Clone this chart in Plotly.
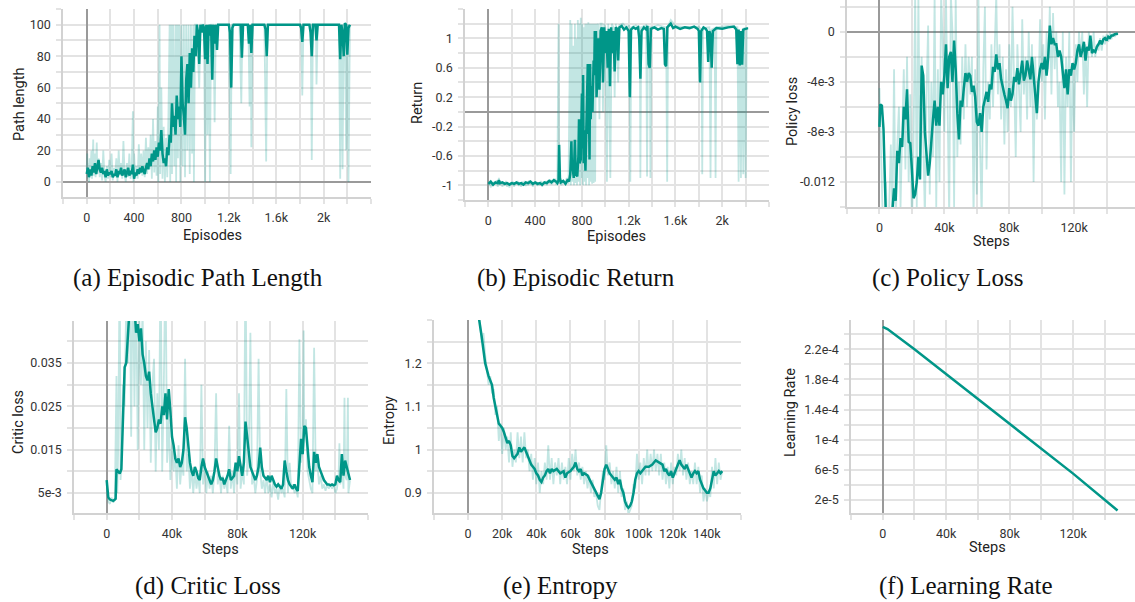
import plotly.graph_objects as go

# ---------------- DATA ----------------
# (a) Episodic path length: (episode, value)
path_len_smooth = [(0,5),(10,9),(20,3),(30,8),(40,4),(50,10),(60,6),(70,12),(80,5),(90,10),(100,14),(110,8),(120,6),(130,9),(140,5),(150,7),(160,3),(170,8),(180,4),(190,6),(200,5),(210,7),(220,3),(230,5),(240,4),(250,8),(260,3),(270,7),(280,5),(290,9),(300,4),(310,6),(320,8),(330,3),(340,6),(350,9),(360,4),(370,7),(380,5),(390,11),(400,2),(410,6),(420,4),(430,8),(440,5),(450,9),(460,6),(470,10),(480,7),(490,5),(500,9),(510,12),(520,8),(530,15),(540,10),(550,18),(560,13),(570,20),(580,14),(590,22),(600,16),(610,25),(620,20),(630,33),(640,18),(650,12),(660,15),(670,10),(680,22),(690,17),(700,30),(710,25),(720,50),(730,35),(740,42),(750,30),(760,55),(770,40),(780,48),(790,35),(800,80),(810,50),(820,42),(830,30),(840,65),(850,75),(860,50),(870,82),(880,60),(890,85),(900,70),(910,93),(920,80),(930,100),(940,95),(950,75),(960,100),(970,95),(980,100),(990,98),(1000,78),(1010,100),(1020,75),(1030,100),(1040,93),(1050,100),(1060,65),(1070,100),(1080,88),(1090,100),(1100,84),(1110,100),(1130,100),(1150,100),(1200,100),(1210,95),(1220,60),(1230,98),(1240,100),(1280,100),(1300,100),(1310,79),(1320,100),(1360,100),(1370,88),(1380,100),(1390,82),(1400,100),(1420,100),(1500,100),(1510,97),(1520,80),(1530,100),(1600,100),(1800,100),(1810,98),(1820,89),(1830,100),(1880,100),(1890,95),(1900,80),(1910,100),(1930,100),(1940,90),(1950,100),(2000,100),(2100,100),(2130,100),(2140,78),(2150,100),(2160,95),(2170,80),(2180,101),(2190,100),(2200,81),(2210,98),(2222,100)]
path_len_raw = [(0,8),(5,18),(10,2),(15,12),(20,0),(25,15),(30,5),(40,20),(45,2),(55,27),(60,4),(70,18),(75,3),(85,25),(90,5),(100,15),(110,3),(120,12),(130,1),(140,20),(150,4),(160,0),(170,10),(180,2),(190,14),(200,3),(210,18),(220,1),(230,9),(240,3),(250,15),(260,0),(270,20),(280,4),(290,12),(300,2),(310,26),(320,5),(330,0),(340,12),(350,3),(360,18),(370,2),(380,8),(390,45),(395,0),(400,18),(410,3),(420,10),(430,2),(440,24),(450,5),(460,18),(470,4),(480,20),(490,3),(500,28),(510,5),(520,22),(530,8),(540,30),(550,2),(560,40),(570,6),(580,26),(590,4),(600,48),(605,0),(615,100),(620,5),(630,60),(640,2),(650,35),(660,0),(670,28),(680,3),(690,42),(700,100),(705,0),(715,100),(720,5),(730,100),(740,10),(750,100),(755,0),(765,100),(770,15),(780,100),(790,0),(800,100),(810,10),(820,100),(830,3),(840,100),(850,20),(860,100),(870,5),(880,100),(890,18),(900,100),(905,0),(915,100),(930,100),(950,60),(960,100),(990,100),(1000,0),(1010,100),(1020,30),(1030,100),(1040,0),(1050,100),(1070,100),(1080,38),(1090,100),(1120,100),(1200,100),(1215,5),(1225,100),(1290,100),(1305,50),(1315,100),(1365,100),(1375,48),(1385,100),(1390,22),(1400,100),(1500,100),(1515,13),(1525,100),(1810,100),(1820,55),(1830,100),(1890,100),(1900,14),(1910,100),(1935,100),(1940,62),(1950,100),(2130,100),(2140,2),(2150,100),(2160,8),(2170,100),(2180,100),(2190,20),(2200,100),(2210,0),(2222,100)]

# (b) Episodic return
return_smooth = [(0,-0.98),(20,-0.95),(40,-0.99),(60,-0.96),(80,-0.97),(90,-0.93),(100,-0.97),(120,-0.96),(140,-0.98),(160,-0.97),(180,-0.99),(200,-0.97),(220,-0.98),(240,-0.96),(260,-0.98),(280,-0.97),(300,-0.99),(320,-0.96),(340,-0.97),(360,-0.95),(380,-0.98),(400,-0.96),(420,-0.98),(440,-0.97),(460,-0.99),(480,-0.96),(500,-0.97),(520,-0.94),(540,-0.96),(560,-0.93),(580,-0.95),(590,-0.97),(600,-0.93),(605,-0.45),(612,-0.9),(620,-0.96),(640,-0.94),(660,-0.98),(680,-0.92),(690,-0.95),(700,-0.85),(710,-0.4),(715,-0.8),(720,-0.75),(730,-0.9),(740,-0.38),(745,-0.7),(750,-0.85),(760,-0.88),(770,-0.6),(775,-0.1),(780,-0.7),(790,-0.65),(800,0.25),(805,-0.5),(810,0.5),(815,-0.7),(820,-0.25),(830,-0.8),(840,-0.05),(850,0.65),(855,-0.3),(860,0.1),(865,-0.65),(870,0.65),(875,-0.1),(880,0.35),(890,0.0),(900,0.7),(905,0.5),(910,1.1),(915,0.6),(920,1.1),(925,0.2),(930,0.4),(935,0.9),(940,1.0),(950,0.3),(960,1.1),(970,1.15),(980,0.4),(990,1.15),(1000,0.8),(1010,1.1),(1020,0.6),(1030,1.13),(1040,0.35),(1050,1.15),(1060,0.8),(1070,1.1),(1080,0.55),(1090,1.15),(1100,1.13),(1110,0.7),(1120,1.15),(1140,1.17),(1160,1.12),(1180,1.15),(1200,1.1),(1210,0.2),(1220,1.12),(1240,1.15),(1260,1.13),(1280,1.15),(1290,1.0),(1300,0.45),(1310,1.1),(1330,1.15),(1350,1.12),(1360,1.17),(1370,0.65),(1380,0.6),(1390,1.13),(1420,1.15),(1450,1.12),(1480,1.14),(1500,1.13),(1510,0.65),(1520,0.62),(1530,1.15),(1560,1.2),(1580,1.14),(1600,1.16),(1640,1.13),(1680,1.15),(1720,1.14),(1760,1.16),(1790,1.13),(1800,1.1),(1810,0.4),(1820,1.1),(1840,1.15),(1860,1.13),(1870,1.1),(1880,0.68),(1890,1.1),(1900,1.05),(1910,0.6),(1920,1.1),(1950,1.14),(2000,1.13),(2050,1.15),(2100,1.16),(2120,1.12),(2130,0.65),(2140,1.12),(2150,0.63),(2160,1.1),(2170,0.64),(2180,1.12),(2200,1.13),(2220,1.14)]
return_raw = [(0,-1.0),(10,-0.94),(20,-1.03),(30,-0.96),(40,-1.01),(50,-0.95),(60,-0.99),(70,-0.93),(80,-1.02),(90,-0.9),(100,-1.0),(110,-0.95),(120,-1.02),(130,-0.96),(140,-1.0),(150,-0.94),(160,-1.02),(170,-0.97),(180,-1.03),(190,-0.96),(200,-1.0),(210,-0.95),(220,-1.02),(230,-0.96),(240,-0.99),(250,-0.94),(260,-1.01),(270,-0.96),(280,-1.02),(290,-0.95),(300,-1.0),(310,-0.94),(320,-1.01),(330,-0.96),(340,-1.0),(350,-0.93),(360,-0.99),(370,-0.95),(380,-1.02),(390,-0.96),(400,-0.99),(410,-0.95),(420,-1.01),(430,-0.96),(440,-1.0),(450,-0.94),(460,-1.02),(470,-0.95),(480,-0.99),(490,-0.94),(500,-1.0),(510,-0.93),(520,-0.98),(530,-0.92),(540,-0.99),(550,-0.93),(560,-0.97),(570,-0.91),(580,-0.99),(590,-0.94),(600,1.2),(605,-0.98),(615,-0.92),(625,-1.0),(640,-0.93),(655,-0.99),(670,-0.9),(685,-0.98),(700,1.25),(705,-1.0),(712,1.2),(718,-0.95),(725,0.9),(732,-1.0),(740,1.2),(746,-0.97),(752,1.0),(758,-1.0),(765,1.25),(771,-0.95),(778,1.2),(784,-1.0),(790,1.28),(796,-0.9),(803,1.2),(809,-1.0),(816,1.15),(822,-0.95),(829,1.2),(835,-1.0),(842,1.2),(848,-0.9),(855,1.22),(861,-1.0),(868,1.2),(874,-0.95),(881,1.2),(887,-0.98),(894,1.2),(900,-0.97),(907,1.2),(913,-0.95),(920,1.2),(926,0.2),(933,1.2),(940,1.18),(950,-0.1),(958,1.2),(970,1.2),(980,0.0),(990,1.2),(1000,1.15),(1014,-0.95),(1025,1.2),(1043,-0.9),(1055,1.2),(1070,1.15),(1080,0.2),(1090,1.2),(1110,0.4),(1120,1.18),(1150,1.2),(1180,1.15),(1205,1.18),(1214,-0.95),(1222,1.15),(1260,1.18),(1295,1.15),(1300,-0.9),(1307,1.15),(1350,1.18),(1357,-0.88),(1365,1.15),(1380,1.16),(1386,-0.9),(1393,1.15),(1450,1.18),(1520,1.15),(1529,-0.95),(1537,1.17),(1560,1.25),(1600,1.17),(1700,1.15),(1800,1.16),(1822,1.12),(1829,-0.85),(1836,1.14),(1890,1.15),(1900,-0.9),(1908,1.12),(1935,1.14),(1943,-0.9),(1950,1.15),(2050,1.17),(2130,1.15),(2140,-0.95),(2150,1.1),(2160,-0.9),(2170,1.12),(2180,-0.85),(2190,1.15),(2200,-0.9),(2210,1.13),(2222,1.15)]

# (c) Policy loss: (step in thousands, loss in 1e-3)
policy_smooth = [(0,-7.6),(0.5,-5.8),(1.5,-5.9),(2.5,-7.8),(4,-15),(6,-16),(8,-14.2),(9,-12.5),(10,-13.5),(11,-9.5),(12,-10.5),(13,-8.5),(14,-9.2),(15,-6.0),(16,-7),(17,-4.6),(18,-8.8),(19,-8.9),(20,-11),(21,-13.3),(22,-13),(23,-12),(24,-10),(25,-11.8),(26,-2.7),(27,-3.5),(28,-8.0),(29,-9.5),(30,-11.5),(31,-10.5),(32,-8.5),(33,-7),(34,-5.5),(35,-7.5),(36,-6),(37,-7.5),(38,-4.0),(39,-5),(40,-3.5),(41,-1.0),(42,-4.5),(43,-2),(44,-1.6),(45,-4),(46,-0.7),(47,-3),(48,-6.5),(49,-8.6),(50,-5.5),(51,-6.0),(52,-4.5),(53,-3.3),(54,-4.0),(55,-3.3),(56,-3.5),(57,-4.8),(58,-4.3),(59,-5.2),(60,-7.2),(61,-7.5),(62,-6.5),(63,-8.0),(64,-6.0),(65,-5.5),(66,-4.8),(67,-5.6),(68,-4.2),(69,-4.6),(70,-2.8),(71,-3.2),(72,-1.8),(73,-3.0),(74,-2.5),(75,-3.8),(76,-4.5),(77,-5.0),(78,-5.5),(79,-6.1),(80,-4.5),(81,-5.5),(82,-5.0),(83,-3.6),(84,-4.0),(85,-2.9),(86,-4.2),(87,-3.0),(88,-2.3),(89,-3.9),(90,-3.5),(91,-2.3),(92,-3.0),(93,-3.8),(94,-2.0),(95,-3.5),(96,-4.5),(97,-6.5),(98,-4.0),(99,-3.0),(100,-2.5),(101,-3.0),(102,-2.0),(103,-3.5),(104,-2.0),(105,0.5),(106,-1.0),(107,-0.5),(108,-1.0),(109,-1.0),(110,-2.0),(111,-1.5),(112,-2.0),(113,-3.5),(114,-4.5),(115,-3.0),(116,-5.0),(117,-3.0),(118,-3.5),(119,-2.5),(120,-3.0),(121,-2.5),(122,-1.5),(123,-1.0),(124,-2.0),(125,-1.5),(126,-0.8),(127,-2.3),(128,-1.2),(129,-1.5),(130,-0.3),(131,-1.7),(132,-1.5),(133,-1.6),(134,-1.2),(135,-1.0),(136,-0.7),(137,-1.0),(138,-0.6),(139,-0.5),(140,-0.7),(141,-0.4),(142,-0.5),(143,-0.3),(144,-0.3),(145,-0.2),(146,-0.2),(147,-0.15)]
policy_raw = [(0,-4.5),(1,-10),(2,-16),(3,-20),(4,-12),(5,-18),(6,-14),(7,-9),(8,-15),(9,-3),(10,-16),(11,-9),(12,-6),(13,-14),(14,-8),(15,-3),(16,-11),(17,-2),(18,-12),(19,-5),(20,-16),(21,-9),(22,3),(23,-14),(24,3),(25,-11),(26,-2),(27,-9),(28,-15),(29,-5),(30,0.5),(31,-13),(32,-4),(33,-10),(34,3),(35,-14),(36,-3),(37,-12),(38,3),(39,-1),(40,-8),(41,3),(42,-6),(43,-15),(44,3),(45,0),(46,-14),(47,3),(48,-10),(49,-4),(50,-9),(51,-2),(52,-7),(53,-1),(54,-6),(55,-2),(56,-5),(57,-2),(58,-15),(59,-3),(60,-13),(61,3),(62,-9),(63,-15),(64,-3),(65,2),(66,-11),(67,-4),(68,-7),(69,-1),(70,-6),(71,-2),(72,3),(73,-5),(74,-1),(75,-7),(76,-2),(77,-9),(78,-3),(79,-8),(80,-1),(81,-6),(82,2),(83,-4),(84,-10),(85,-1),(86,-5),(87,-8),(88,1),(89,-5),(90,-2),(91,-7),(92,0),(93,-6),(94,-1),(95,-12),(96,-2),(97,-7),(98,-5),(99,1),(100,-4),(101,-1),(102,-7),(103,0),(104,-3),(105,2),(106,-5),(107,1.5),(108,-3),(109,0),(110,-6),(111,-4),(112,-12),(113,0),(114,-13),(115,-2),(116,-6),(117,0),(118,-12),(119,-3),(120,-8),(121,-1),(122,-4),(123,0),(124,-2),(125,0),(126,-5),(127,-1),(128,-6),(129,0),(130,-1),(131,-2),(132,0),(133,-2),(134,-1),(135,-1.5),(136,-0.5),(137,-1.5),(138,-0.3),(139,-1.0),(140,-0.2),(141,-0.8),(142,0),(143,-0.6),(144,-0.1),(145,-0.4),(146,-0.1),(147,-0.2)]

# (d) Critic loss: (step in thousands, loss in 1e-3)
critic_smooth = [(0,8.0),(0.5,5.5),(1,4.0),(2,3.5),(3,3.3),(4,3.2),(5,3.5),(5.5,3.7),(6,10.5),(7,10),(8,9.5),(9,10.5),(10,22),(11,34),(12,35),(13,45),(14,50),(15,55),(16,60),(17,48),(18,42),(19,44),(20,40),(21,43),(22,37),(23,35),(24,32),(25,31),(26,33),(27,28),(28,25),(29,21),(30,19),(31,20),(32,22),(33,21),(34,25),(35,23),(36,28),(37,22),(38,29),(39,24),(40,18),(41,16),(42,13),(43,12),(44,13),(45,11),(46,12),(47,15),(48,22.5),(49,20),(50,15),(51,12),(52,10),(53,9),(54,11),(55,10),(56,8.5),(57,8),(58,11),(59,13),(60,11),(61,10),(62,9),(63,8),(64,7),(65,8),(66,10),(67,13),(68,11),(69,9),(70,8),(71,8.5),(72,7),(73,8),(74,9),(75,10.5),(76,8),(77,8.5),(78,9),(79,12),(80,10),(81,13.5),(82,11),(83,9),(84,12),(85,21.5),(86,18),(87,14),(88,11),(89,10),(90,9),(91,8),(92,9),(93,11),(94,15.5),(95,11),(96,9),(97,8.5),(98,8),(99,9),(100,7.5),(101,9),(102,8),(103,7),(104,6.5),(105,7),(106,6.5),(107,6),(108,7),(109,12.5),(110,10),(111,8),(112,7),(113,6.5),(114,6),(115,7),(116,6),(117,5.5),(118,13),(119,17.5),(120,14),(121,20.5),(122,20),(123,15),(124,11),(125,9),(126,7.5),(127,14.5),(128,12),(129,14),(130,11),(131,10),(132,9),(133,8),(134,7.5),(135,7),(136,7),(137,6.8),(138,7),(139,6.8),(140,7),(141,9),(142,8),(143,7.5),(144,14),(145,9),(146,12.5),(147,11),(148,10),(149,8)]
critic_raw = [(0,7),(1,3),(2,2.5),(3,4),(4,2.8),(5,3.5),(6,32),(6.5,5),(7,14),(8,60),(8.5,8),(9,11),(10,30),(11,25),(12,50),(13,35),(14,60),(15,18),(16,60),(17,25),(18,55),(19,15),(20,45),(21,30),(22,48),(23,15),(24,40),(25,20),(26,38),(27,12),(28,30),(29,36),(30,10),(31,28),(32,15),(33,60),(34,10),(35,30),(36,60),(37,12),(38,22),(39,8),(40,18),(41,10),(42,14),(43,6),(44,16),(45,7),(46,12),(47,9),(48,36),(49,10),(50,14),(51,6),(52,11),(53,5),(54,10),(55,6),(56,9),(57,5),(58,30),(59,7),(60,12),(61,5),(62,10),(63,6),(64,9),(65,5),(66,10),(67,28),(68,7),(69,10),(70,5),(71,9),(72,6),(73,8),(74,5),(75,20.5),(76,6),(77,10),(78,5),(79,12),(80,7),(81,28),(82,6),(83,10),(84,7),(85,60),(86,9),(87,14),(88,42),(89,7),(90,9),(91,5),(92,8),(93,36),(94,10),(95,6),(96,8),(97,5),(98,9),(99,5),(100,7),(101,4),(102,8),(103,5),(104,6),(105,3.5),(106,7),(107,5),(108,6),(109,4),(110,29),(111,5),(112,12),(113,6),(114,7),(115,5),(116,6),(117,4),(118,40.5),(119,12),(120,15),(120.6,42.5),(121,18),(122,22),(123,10),(124,8),(125,6),(126,5),(127,38.5),(128,10),(129,12),(130,7),(131,9),(132,6),(133,7),(134,5.5),(135,7),(136,6),(137,7),(138,6),(139,7),(140,5),(141,6),(142,9),(142.5,16.5),(143,7),(144,12),(145,6),(145.6,27),(146,9),(147,8),(147.7,27),(148,5),(149,8)]

# (e) Entropy: (step in thousands, entropy)
entropy_smooth = [(5,1.33),(6.5,1.3),(8,1.26),(10,1.2),(12,1.17),(14,1.15),(15,1.12),(16,1.1),(17,1.08),(18,1.06),(19,1.055),(20,1.05),(21,1.04),(22,1.025),(23,1.015),(24,1.02),(25,1.01),(26,0.985),(27,0.98),(28,0.985),(29,0.99),(30,1.005),(31,0.995),(32,1.0),(33,1.005),(34,0.995),(35,0.985),(36,0.975),(37,0.965),(38,0.96),(39,0.955),(40,0.945),(41,0.94),(42,0.93),(43,0.925),(44,0.935),(45,0.94),(46,0.95),(47,0.955),(48,0.945),(49,0.955),(50,0.95),(52,0.955),(54,0.945),(56,0.95),(57,0.935),(58,0.945),(60,0.95),(62,0.96),(63,0.97),(64,0.955),(65,0.95),(66,0.955),(67,0.94),(68,0.945),(70,0.94),(72,0.925),(74,0.91),(76,0.895),(77,0.885),(78,0.9),(79,0.93),(80,0.955),(81,0.965),(82,0.955),(83,0.945),(84,0.94),(85,0.935),(86,0.93),(87,0.935),(88,0.92),(89,0.93),(90,0.91),(91,0.9),(92,0.88),(93,0.87),(94,0.865),(95,0.87),(96,0.88),(97,0.9),(98,0.93),(99,0.945),(100,0.95),(101,0.945),(102,0.95),(103,0.955),(104,0.96),(106,0.96),(108,0.965),(110,0.975),(112,0.97),(114,0.965),(115,0.95),(116,0.955),(117,0.945),(118,0.94),(119,0.95),(120,0.935),(121,0.945),(122,0.955),(123,0.965),(124,0.975),(125,0.965),(126,0.96),(127,0.955),(128,0.965),(129,0.955),(130,0.945),(131,0.935),(132,0.945),(133,0.95),(134,0.945),(135,0.95),(136,0.93),(137,0.92),(138,0.91),(139,0.905),(140,0.9),(141,0.9),(142,0.91),(143,0.93),(144,0.95),(145,0.94),(146,0.945),(147,0.95),(148,0.945),(149,0.95)]
entropy_raw = [(5,1.32),(6,1.33),(8,1.25),(9,1.27),(10,1.22),(11,1.19),(12,1.15),(13,1.17),(14,1.13),(15,1.14),(16,1.08),(17,1.1),(18,1.02),(19,1.06),(20,0.99),(21,1.05),(22,1.0),(23,1.03),(24,0.97),(25,1.04),(26,0.96),(27,1.0),(28,0.97),(29,1.04),(30,0.98),(31,1.03),(32,0.97),(33,1.04),(34,0.98),(35,1.0),(36,0.95),(37,0.99),(38,0.93),(39,0.98),(40,0.92),(41,0.97),(42,0.9),(43,0.95),(44,0.92),(45,0.97),(46,0.93),(47,1.01),(48,0.93),(49,0.98),(50,0.92),(51,0.97),(52,0.94),(53,0.98),(54,0.92),(55,0.97),(56,0.93),(57,0.96),(58,0.92),(59,0.98),(60,0.93),(61,0.99),(62,0.95),(63,1.0),(64,0.94),(65,0.97),(66,0.93),(67,0.96),(68,0.92),(69,0.95),(70,0.91),(71,0.94),(72,0.9),(73,0.93),(74,0.89),(75,0.9),(76,0.87),(77,0.86),(78,0.91),(79,0.95),(80,0.93),(81,1.01),(82,0.94),(83,0.97),(84,0.92),(85,0.95),(86,0.91),(87,0.96),(88,0.9),(89,0.95),(90,0.89),(91,0.91),(92,0.86),(93,0.88),(94,0.85),(95,0.86),(96,0.87),(97,0.92),(98,0.91),(99,0.99),(100,0.93),(101,0.97),(102,0.92),(103,0.98),(104,0.94),(105,1.0),(106,0.94),(107,0.99),(108,0.95),(109,1.0),(110,0.95),(111,0.99),(112,0.94),(113,0.99),(114,0.93),(115,0.97),(116,0.92),(117,0.96),(118,0.91),(119,0.97),(120,0.92),(121,0.96),(122,0.94),(123,0.99),(124,0.95),(125,1.0),(126,0.94),(127,0.98),(128,0.93),(129,0.97),(130,0.92),(131,0.95),(132,0.92),(133,0.97),(134,0.92),(135,0.96),(136,0.9),(137,0.94),(138,0.88),(139,0.91),(140,0.88),(141,0.9),(142,0.89),(143,0.96),(144,0.91),(145,0.98),(146,0.92),(147,0.97),(148,0.93),(149,0.95)]

# (f) Learning rate: (step in thousands, lr)
lr_values = [(0,2.5e-4),(3,2.47e-4),(20,2.2e-4),(40,1.87e-4),(60,1.54e-4),(80,1.21e-4),(100,8.8e-5),(120,5.5e-5),(148,6e-6)]

# tick labels (value, label)
ep_ticks = [(-200,""),(0,"0"),(200,""),(400,"400"),(600,""),(800,"800"),(1000,""),(1200,"1.2k"),(1400,""),(1600,"1.6k"),(1800,""),(2000,"2k"),(2200,""),(2400,"")]
step_ticks4 = [(-20,""),(0,"0"),(20,""),(40,"40k"),(60,""),(80,"80k"),(100,""),(120,"120k"),(140,""),(160,"")]
step_ticks2 = [(-20,""),(0,"0"),(20,"20k"),(40,"40k"),(60,"60k"),(80,"80k"),(100,"100k"),(120,"120k"),(140,"140k"),(160,"")]
pathlen_ticks = [(-10,""),(0,"0"),(10,""),(20,"20"),(30,""),(40,"40"),(50,""),(60,"60"),(70,""),(80,"80"),(90,""),(100,"100"),(110,"")]
return_ticks = [(-1.2,""),(-1.0,"-1"),(-0.8,""),(-0.6,"-0.6"),(-0.4,""),(-0.2,"-0.2"),(0.0,""),(0.2,"0.2"),(0.4,""),(0.6,"0.6"),(0.8,""),(1.0,"1"),(1.2,""),(1.4,"")]
policy_ticks = [(-0.014,""),(-0.012,"-0.012"),(-0.010,""),(-0.008,"-8e-3"),(-0.006,""),(-0.004,"-4e-3"),(-0.002,""),(0.0,"0"),(0.002,"")]
critic_ticks = [(0.0,""),(0.005,"5e-3"),(0.010,""),(0.015,"0.015"),(0.020,""),(0.025,"0.025"),(0.030,""),(0.035,"0.035"),(0.040,""),(0.045,"")]
entropy_ticks = [(0.85,""),(0.9,"0.9"),(0.95,""),(1.0,"1"),(1.05,""),(1.1,"1.1"),(1.15,""),(1.2,"1.2"),(1.25,""),(1.3,"")]
lr_ticks = [(2e-5,"2e-5"),(4e-5,""),(6e-5,"6e-5"),(8e-5,""),(1e-4,"1e-4"),(1.2e-4,""),(1.4e-4,"1.4e-4"),(1.6e-4,""),(1.8e-4,"1.8e-4"),(2.0e-4,""),(2.2e-4,"2.2e-4"),(2.4e-4,""),(2.6e-4,"")]

captions = ["(a) Episodic Path Length", "(b) Episodic Return", "(c) Policy Loss",
            "(d) Critic Loss", "(e) Entropy", "(f) Learning Rate"]

# ---------------- STYLE / LAYOUT ----------------
W, H = 1135, 602
TEAL = "rgb(0,150,136)"
FAINT = "rgba(0,150,136,0.24)"
GRID = "#e3e3e3"
ZERO = "#9a9a9a"
TICKFONT = dict(family="Roboto, Arial, sans-serif", size=12.5, color="#333333")
TITLEFONT = dict(family="Roboto, Arial, sans-serif", size=14.5, color="#222222")
CAPFONT = dict(family="Liberation Serif, Times New Roman, serif", size=25, color="#111111")

fig = go.Figure()

def sc(vals, k):
    return [v * k for v in vals]

panels = [
    dict(box=(63, 371, 9, 197), xr=(-200, 2400), yr=(-9.6, 110), xt=ep_ticks, yt=pathlen_ticks,
         raw=path_len_raw, sm=path_len_smooth, xk=1, yk=1,
         xtitle="Episodes", ytitle="Path length", xtp=(212, 235), ytp=(20, 105), cap=(198, 278)),
    dict(box=(465, 769, 9, 200), xr=(-200, 2400), yr=(-1.2, 1.4), xt=ep_ticks, yt=return_ticks,
         raw=return_raw, sm=return_smooth, xk=1, yk=1,
         xtitle="Episodes", ytitle="Return", xtp=(616, 237), ytp=(418, 103), cap=(576, 278)),
    dict(box=(847, 1135, 0, 207), xr=(-20, 157.5), yr=(-0.014, 0.00254), xt=step_ticks4, yt=policy_ticks,
         raw=policy_raw, sm=policy_smooth, xk=1, yk=1e-3,
         xtitle="Steps", ytitle="Policy loss", xtp=(991, 241), ytp=(792, 112), cap=(947, 278)),
    dict(box=(74, 368, 321, 513), xr=(-20, 160), yr=(0.0004, 0.0447), xt=step_ticks4, yt=critic_ticks,
         raw=critic_raw, sm=critic_smooth, xk=1, yk=1e-3,
         xtitle="Steps", ytitle="Critic loss", xtp=(220, 549), ytp=(18, 422), cap=(208, 586)),
    dict(box=(434, 741, 320, 513), xr=(-20, 160), yr=(0.853, 1.3), xt=step_ticks2, yt=entropy_ticks,
         raw=entropy_raw, sm=entropy_smooth, xk=1, yk=1,
         xtitle="Steps", ytitle="Entropy", xtp=(590, 549), ytp=(389, 421), cap=(560, 586)),
    dict(box=(851, 1135, 320, 513), xr=(-20, 159), yr=(2.7e-6, 2.59e-4), xt=step_ticks4, yt=lr_ticks,
         raw=None, sm=lr_values, xk=1, yk=1,
         xtitle="Steps", ytitle="Learning Rate", xtp=(987, 547), ytp=(790, 413), cap=(966, 586)),
]

annotations = []
layout_axes = {}
for i, p in enumerate(panels):
    n = i + 1
    xa = "x" if n == 1 else f"x{n}"
    ya = "y" if n == 1 else f"y{n}"
    x0, x1, yt_, yb_ = p["box"]
    xdom = [x0 / W, min(x1 / W, 1.0)]
    ydom = [1 - yb_ / H, 1 - yt_ / H]
    xv = [t[0] for t in p["xt"]]
    xl = [t[1] for t in p["xt"]]
    yv = [t[0] for t in p["yt"]]
    yl = [t[1] for t in p["yt"]]
    common = dict(showgrid=True, gridcolor=GRID, gridwidth=2, ticks="outside", ticklen=5,
                  tickcolor=GRID, tickwidth=1.5, tickfont=TICKFONT, showline=True,
                  linecolor="#d2d2d2", linewidth=1.5, zeroline=True, zerolinecolor=ZERO,
                  zerolinewidth=1.5, tickmode="array", fixedrange=True)
    layout_axes["xaxis" if n == 1 else f"xaxis{n}"] = dict(
        common, domain=xdom, range=list(p["xr"]), tickvals=xv, ticktext=xl,
        anchor=ya, ticklabelstandoff=3)
    layout_axes["yaxis" if n == 1 else f"yaxis{n}"] = dict(
        common, domain=ydom, range=list(p["yr"]), tickvals=yv, ticktext=yl,
        anchor=xa, ticklabelstandoff=3)
    if p["raw"] is not None:
        fig.add_trace(go.Scatter(x=sc([r[0] for r in p["raw"]], p["xk"]),
                                 y=sc([r[1] for r in p["raw"]], p["yk"]),
                                 mode="lines", line=dict(color=FAINT, width=1.8),
                                 xaxis=xa, yaxis=ya, hoverinfo="skip", showlegend=False))
    fig.add_trace(go.Scatter(x=sc([r[0] for r in p["sm"]], p["xk"]),
                             y=sc([r[1] for r in p["sm"]], p["yk"]),
                             mode="lines", line=dict(color=TEAL, width=2.5),
                             xaxis=xa, yaxis=ya, showlegend=False))
    annotations.append(dict(text=p["xtitle"], x=p["xtp"][0] / W, y=1 - p["xtp"][1] / H,
                            xref="paper", yref="paper", showarrow=False, font=TITLEFONT,
                            xanchor="center", yanchor="middle"))
    annotations.append(dict(text=p["ytitle"], x=p["ytp"][0] / W, y=1 - p["ytp"][1] / H,
                            xref="paper", yref="paper", showarrow=False, font=TITLEFONT,
                            textangle=-90, xanchor="center", yanchor="middle"))
    annotations.append(dict(text=captions[i], x=p["cap"][0] / W, y=1 - p["cap"][1] / H,
                            xref="paper", yref="paper", showarrow=False, font=CAPFONT,
                            xanchor="center", yanchor="middle"))

fig.update_layout(width=W, height=H, margin=dict(l=0, r=0, t=0, b=0),
                  paper_bgcolor="white", plot_bgcolor="white",
                  annotations=annotations, **layout_axes)

fig.write_html("out.html", config={"displayModeBar": False})
